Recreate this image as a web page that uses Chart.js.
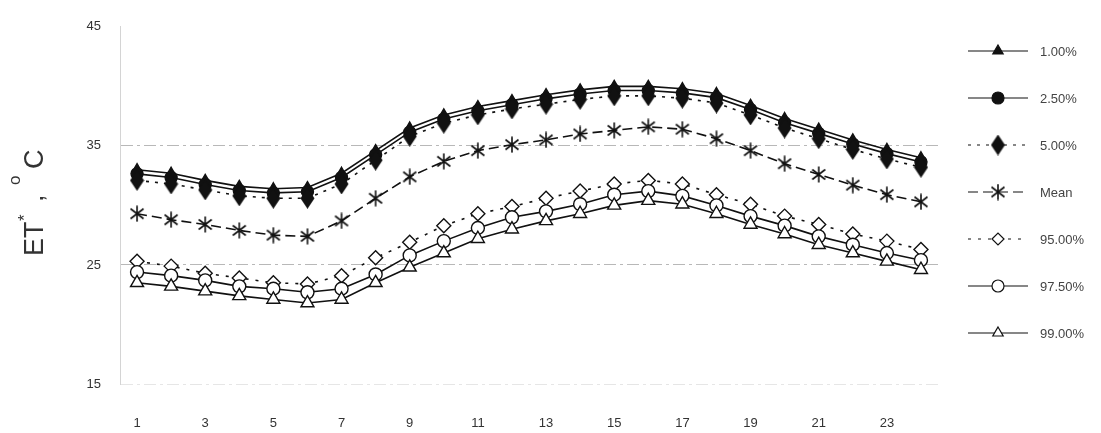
<!DOCTYPE html>
<html>
<head>
<meta charset="utf-8">
<script src="https://cdn.jsdelivr.net/npm/chart.js@4"></script>
<style>
  body { margin: 0; background: #fff; }
</style>
</head>
<body>
<canvas id="etChart" width="1101" height="433"></canvas>
<script>
// hours of the day
const hours = ['1','2','3','4','5','6','7','8','9','10','11','12','13','14','15','16','17','18','19','20','21','22','23','24'];

const p01 = [33.0, 32.7, 32.1, 31.6, 31.4, 31.5, 32.7, 34.6, 36.5, 37.6, 38.3, 38.8, 39.3, 39.7, 40.0, 40.0, 39.8, 39.4, 38.4, 37.3, 36.4, 35.5, 34.7, 34.0];
const p025 = [32.65, 32.35, 31.75, 31.25, 31.05, 31.15, 32.35, 34.25, 36.15, 37.25, 37.95, 38.45, 38.95, 39.35, 39.65, 39.65, 39.45, 39.05, 38.05, 36.95, 36.05, 35.15, 34.35, 33.65];
const p05 = [32.1, 31.8, 31.3, 30.8, 30.6, 30.6, 31.8, 33.8, 35.8, 36.9, 37.6, 38.1, 38.5, 38.9, 39.2, 39.2, 39.0, 38.6, 37.6, 36.5, 35.6, 34.7, 33.9, 33.2];
const meanVals = [29.3, 28.8, 28.4, 27.9, 27.5, 27.4, 28.7, 30.6, 32.4, 33.7, 34.6, 35.1, 35.5, 36.0, 36.3, 36.6, 36.4, 35.6, 34.6, 33.5, 32.6, 31.7, 30.9, 30.3];
const p95 = [25.3, 24.9, 24.3, 23.9, 23.5, 23.4, 24.1, 25.6, 26.9, 28.3, 29.3, 29.9, 30.6, 31.2, 31.8, 32.1, 31.8, 30.9, 30.1, 29.1, 28.4, 27.6, 27.0, 26.3];
const p975 = [24.4, 24.1, 23.7, 23.2, 23.0, 22.7, 23.0, 24.2, 25.8, 27.0, 28.1, 29.0, 29.5, 30.1, 30.9, 31.2, 30.8, 30.0, 29.1, 28.3, 27.4, 26.7, 26.0, 25.4];
const p99 = [23.5, 23.2, 22.8, 22.4, 22.1, 21.8, 22.1, 23.5, 24.8, 26.0, 27.2, 28.0, 28.7, 29.3, 30.0, 30.4, 30.1, 29.3, 28.4, 27.6, 26.7, 26.0, 25.3, 24.6];

const seriesNames = ['1.00%', '2.50%', '5.00%', 'Mean', '95.00%', '97.50%', '99.00%'];
const yTicks = [15, 25, 35, 45];

const FONT = '"Liberation Sans", Arial, sans-serif';
const INK = '#111';

// filled diamond, taller than wide
function makeDiamond() {
  const c = document.createElement('canvas');
  c.width = 15; c.height = 21;
  const g = c.getContext('2d');
  g.fillStyle = INK;
  g.beginPath();
  g.moveTo(7.5, 0); g.lineTo(14.5, 10.5); g.lineTo(7.5, 21); g.lineTo(0.5, 10.5);
  g.closePath();
  g.fill();
  return c;
}

// asterisk: vertical stroke plus an X
function makeAsterisk() {
  const c = document.createElement('canvas');
  c.width = 16; c.height = 17;
  const g = c.getContext('2d');
  g.strokeStyle = INK;
  g.lineWidth = 1.6;
  g.beginPath();
  g.moveTo(8, 0.5); g.lineTo(8, 16.5);
  g.moveTo(1.5, 3.5); g.lineTo(14.5, 13.5);
  g.moveTo(14.5, 3.5); g.lineTo(1.5, 13.5);
  g.stroke();
  return c;
}

function makeDataset(i, data, dash, style, radius, fill) {
  return {
    label: seriesNames[i],
    data: data,
    borderColor: INK,
    borderWidth: 1.6,
    borderDash: dash,
    pointStyle: style,
    pointRadius: radius,
    pointHoverRadius: radius,
    pointBackgroundColor: fill,
    pointBorderColor: INK,
    pointBorderWidth: 1.4,
    tension: 0,
    order: 6 - i
  };
}

const sideLegend = {
  id: 'sideLegend',
  afterDraw(chart) {
    const ctx = chart.ctx;
    chart.data.datasets.forEach((ds, i) => {
      const y = 51 + i * 47;
      ctx.save();
      ctx.strokeStyle = INK;
      ctx.lineWidth = 1.2;
      ctx.setLineDash(ds.borderDash);
      ctx.beginPath();
      ctx.moveTo(968, y);
      ctx.lineTo(1028, y);
      ctx.stroke();
      ctx.setLineDash([]);
      ctx.fillStyle = ds.pointBackgroundColor;
      ctx.strokeStyle = INK;
      ctx.lineWidth = 1.2;
      Chart.helpers.drawPoint(ctx, {
        pointStyle: ds.pointStyle,
        radius: Math.min(ds.pointRadius, 6),
        borderWidth: 1.2,
        rotation: 0
      }, 998, y);
      ctx.fillStyle = '#444';
      ctx.font = '13px ' + FONT;
      ctx.textBaseline = 'middle';
      ctx.fillText(ds.label, 1040, y + 1);
      ctx.restore();
    });
  }
};

// rotated axis title "ET*, °C" with raised asterisk and degree mark
const yTitle = {
  id: 'yTitle',
  afterDraw(chart) {
    const ctx = chart.ctx;
    const parts = [
      { t: 'ET', size: 27, x: 0, dy: 0 },
      { t: '*', size: 17, x: 35, dy: -13 },
      { t: ',', size: 27, x: 54, dy: 0 },
      { t: 'o', size: 17, x: 71, dy: -23 },
      { t: 'C', size: 27, x: 87, dy: 0 }
    ];
    ctx.save();
    ctx.translate(43, 256);
    ctx.rotate(-Math.PI / 2);
    ctx.fillStyle = '#333';
    ctx.textBaseline = 'alphabetic';
    parts.forEach(p => {
      ctx.font = p.size + 'px ' + FONT;
      ctx.fillText(p.t, p.x, p.dy);
    });
    ctx.restore();
  }
};

function initChart() {
  const ctx = document.getElementById('etChart').getContext('2d');

  new Chart(ctx, {
    type: 'line',
    data: {
      labels: hours,
      datasets: [
        makeDataset(0, p01, [], 'triangle', 6, INK),
        makeDataset(1, p025, [], 'circle', 6, INK),
        makeDataset(2, p05, [3, 6], makeDiamond(), 7, INK),
        makeDataset(3, meanVals, [10, 5], makeAsterisk(), 7, INK),
        makeDataset(4, p95, [3, 7], 'rectRot', 7, '#fff'),
        makeDataset(5, p975, [], 'circle', 6.5, '#fff'),
        makeDataset(6, p99, [], 'triangle', 7.5, '#fff')
      ]
    },
    options: {
      responsive: false,
      animation: false,
      layout: {
        padding: { top: 23, right: 163, left: 0, bottom: 0 }
      },
      plugins: {
        legend: { display: false },
        tooltip: { enabled: false }
      },
      scales: {
        x: {
          offset: true,
          grid: { display: false, drawTicks: false },
          border: { display: false },
          ticks: {
            autoSkip: false,
            maxRotation: 0,
            padding: 32,
            color: '#333',
            font: { size: 13, family: FONT },
            callback: (value, index) => index % 2 === 0 ? hours[index] : ''
          },
          afterFit: s => { s.height = 49; }
        },
        y: {
          min: 15,
          max: 45,
          afterBuildTicks: s => { s.ticks = yTicks.map(v => ({ value: v })); },
          grid: {
            drawTicks: false,
            color: c => {
              const v = c.tick && c.tick.value;
              if (v === 25 || v === 35) return '#b8b8b8';
              if (v === 15) return '#e6e6e6';
              return 'rgba(0,0,0,0)';
            },
            lineWidth: 1
          },
          border: { color: '#d4d4d4', dash: [12, 4, 3, 4] },
          ticks: {
            padding: 19,
            color: '#333',
            font: { size: 13, family: FONT }
          },
          afterFit: s => { s.width = 120; }
        }
      }
    },
    plugins: [sideLegend, yTitle]
  });
}

window.addEventListener('DOMContentLoaded', initChart);
</script>
</body>
</html>
